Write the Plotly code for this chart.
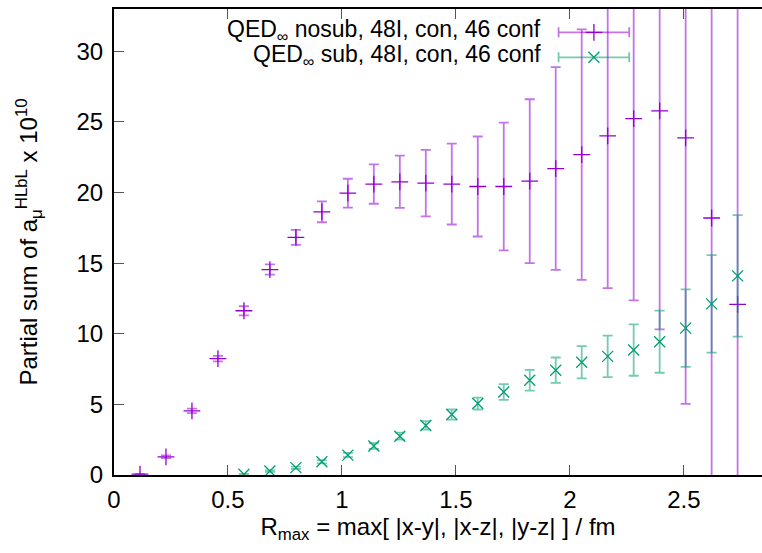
import plotly.graph_objects as go

# R_max values (fm) at which the partial sums are evaluated
r_max = [0.114, 0.228, 0.342, 0.456, 0.570, 0.684, 0.798, 0.912, 1.026, 1.140,
         1.254, 1.368, 1.482, 1.596, 1.710, 1.824, 1.938, 2.052, 2.166, 2.280,
         2.394, 2.508, 2.622, 2.736]

# QED_inf without subtraction
nosub_val = [0.06, 1.29, 4.54, 8.24, 11.63, 14.55, 16.83, 18.64, 19.96, 20.60,
             20.76, 20.67, 20.60, 20.43, 20.43, 20.81, 21.70, 22.69, 24.01, 25.23,
             25.78, 23.87, 18.20, 12.08]
nosub_err = [0.02, 0.10, 0.16, 0.20, 0.32, 0.36, 0.53, 0.74, 1.02, 1.39,
             1.85, 2.35, 2.86, 3.54, 4.53, 5.80, 7.18, 8.87, 10.78, 12.87,
             15.47, 18.83, 22.0, 26.0]

# QED_inf with subtraction (starts at the fifth R_max)
sub_r = r_max[4:]
sub_val = [0.05, 0.28, 0.52, 0.94, 1.41, 2.05, 2.75, 3.51, 4.28, 5.06,
           5.88, 6.71, 7.42, 7.98, 8.40, 8.85, 9.44, 10.40, 12.12, 14.10]
sub_err = [0.02, 0.05, 0.08, 0.12, 0.15, 0.20, 0.25, 0.30, 0.36, 0.42,
           0.56, 0.74, 0.90, 1.14, 1.47, 1.82, 2.20, 2.75, 3.45, 4.30]

labels = ["QED<sub>∞</sub> nosub, 48I, con, 46 conf",
          "QED<sub>∞</sub> sub, 48I, con, 46 conf"]

x_ticks = [0, 0.5, 1, 1.5, 2, 2.5]
x_ticklabels = ["0", "0.5", "1", "1.5", "2", "2.5"]
y_ticks = [0, 5, 10, 15, 20, 25, 30]

PURPLE = "#9400D3"
GREEN = "#009E73"
PURPLE_BAR = "rgba(148,0,211,0.55)"
GREEN_BAR = "rgba(0,158,115,0.55)"
FONT = "Liberation Sans, Arial, sans-serif"
FS = 24

fig = go.Figure()

fig.add_trace(go.Scatter(
    x=r_max, y=nosub_val, mode="markers", name=labels[0], showlegend=False,
    marker=dict(symbol="cross-thin", size=12, line=dict(color=PURPLE, width=1.3)),
    error_y=dict(type="data", array=nosub_err, visible=True, color=PURPLE_BAR,
                 thickness=1.8, width=5),
    cliponaxis=True,
))
fig.add_trace(go.Scatter(
    x=sub_r, y=sub_val, mode="markers", name=labels[1], showlegend=False,
    marker=dict(symbol="x-thin", size=11, line=dict(color=GREEN, width=1.3)),
    error_y=dict(type="data", array=sub_err, visible=True, color=GREEN_BAR,
                 thickness=1.8, width=5),
    cliponaxis=True,
))

# key samples drawn in a hidden overlay axis spanning the plot area
key_x = 0.7406
key_half = 0.0545
key_y = [0.950, 0.8964]
fig.add_trace(go.Scatter(
    x=[key_x], y=[key_y[0]], xaxis="x3", yaxis="y3", mode="markers",
    showlegend=False, hoverinfo="skip",
    marker=dict(symbol="cross-thin", size=12, line=dict(color=PURPLE, width=1.3)),
    error_x=dict(type="constant", value=key_half, color=PURPLE_BAR, thickness=1.8, width=5),
))
fig.add_trace(go.Scatter(
    x=[key_x], y=[key_y[1]], xaxis="x3", yaxis="y3", mode="markers",
    showlegend=False, hoverinfo="skip",
    marker=dict(symbol="x-thin", size=11, line=dict(color=GREEN, width=1.3)),
    error_x=dict(type="constant", value=key_half, color=GREEN_BAR, thickness=1.8, width=5),
))
for lab, yy in zip(labels, key_y):
    fig.add_annotation(text=lab, xref="paper", yref="paper", x=0.6618, y=yy + 0.004,
                       xanchor="right", yanchor="middle", showarrow=False,
                       font=dict(family=FONT, size=23, color="black"))

fig.update_layout(
    width=762, height=553,
    margin=dict(l=114, r=0, t=9, b=78),
    paper_bgcolor="white", plot_bgcolor="white",
    font=dict(family=FONT, size=FS, color="black"),
    xaxis=dict(
        range=[0, 2.843], tickvals=x_ticks, ticktext=x_ticklabels,
        ticks="inside", ticklen=10, tickwidth=1, tickcolor="#555",
        showline=True, linecolor="black", linewidth=2, mirror="ticks",
        showgrid=False, zeroline=False, automargin=False, ticklabelstandoff=2,
        title=dict(text="R<sub>max</sub> = max[ |x-y|, |x-z|, |y-z| ] / fm",
                   font=dict(size=FS), standoff=4),
    ),
    yaxis=dict(
        range=[0, 33], tickvals=y_ticks,
        ticks="inside", ticklen=10, tickwidth=1, tickcolor="#555",
        showline=True, linecolor="black", linewidth=2, mirror=False,
        showgrid=False, zeroline=False, automargin=False, ticklabelstandoff=4,
        title=dict(text="Partial sum of a<sub>μ</sub><sup>HLbL</sup> x 10<sup>10</sup>",
                   font=dict(size=FS), standoff=32),
    ),
    yaxis2=dict(
        overlaying="y", side="right", range=[0, 33], tickvals=y_ticks,
        ticks="inside", ticklen=10, tickwidth=1, tickcolor="#555",
        showline=False, showticklabels=False, showgrid=False, zeroline=False,
    ),
    xaxis3=dict(overlaying="x", range=[0, 1], visible=False),
    yaxis3=dict(overlaying="y", range=[0, 1], visible=False),
    showlegend=False,
)

fig.write_html("out.html")
